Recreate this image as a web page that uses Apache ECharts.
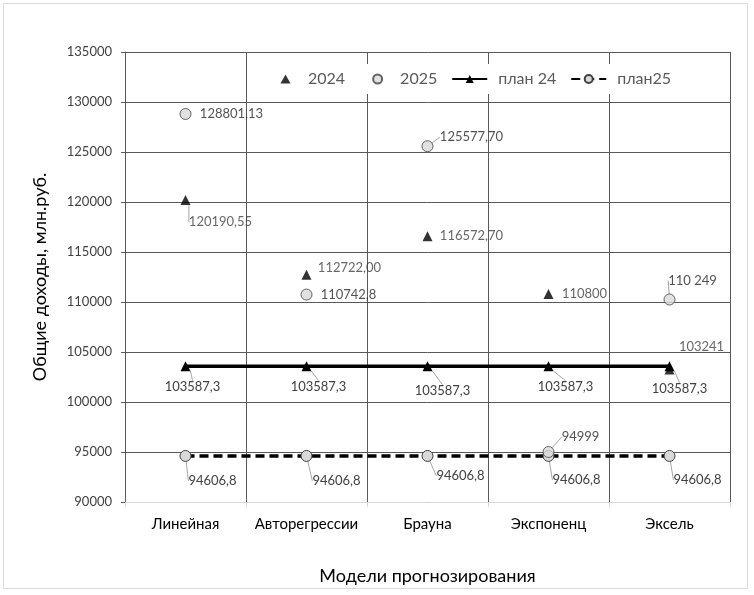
<!DOCTYPE html>
<html><head><meta charset="utf-8">
<script src="https://cdn.jsdelivr.net/npm/echarts@6/dist/echarts.min.js"></script>
<style>html,body{margin:0;padding:0;background:#fff}#c{width:754px;height:595px}</style>
</head><body><div id="c"></div>
<script>
const categories = ['Линейная','Авторегрессии','Брауна','Экспоненц','Эксель'];
const y2024 = [120190.55, 112722.00, 116572.70, 110800, 103241];
const y2025 = [128801.13, 110742.8, 125577.70, 94999, 110249];
const plan24 = [103587.3, 103587.3, 103587.3, 103587.3, 103587.3];
const plan25 = [94606.8, 94606.8, 94606.8, 94606.8, 94606.8];
const labels2024 = ['120190,55','112722,00','116572,70','110800','103241'];
const labels2025 = ['128801,13','110742,8','125577,70','94999','110 249'];
const labelsPlan24 = ['103587,3','103587,3','103587,3','103587,3','103587,3'];
const labelsPlan25 = ['94606,8','94606,8','94606,8','94606,8','94606,8'];
const yTicks = {min: 90000, max: 135000, interval: 5000};

// label placement (offsets from the point, px) and leader-line flags
const off2024 = [[35,22],[43,-7],[44,0],[36,0],[32,-23]];
const lead2024 = [true,false,false,false,false];
const off2025 = [[46,0],[42,0],[44,-9],[32,-15],[23,-19]];
const lead2025 = [false,false,true,true,true];
const offP24 = [[7,21],[12,21],[15,25],[17,21],[10,23]];
const offP25 = [[27,25],[30,25],[33,20],[28,24],[28,24]];

const FONT = 'Lato, "Open Sans", sans-serif';

function mkData(vals, texts, leads){
  return vals.map((v,i)=>({value:v, label:{formatter: texts[i]}, labelLine:{show: leads[i]}}));
}
function layoutFrom(offs){
  return function(p){ const o = offs[p.dataIndex]; return {dx:o[0], dy:o[1]}; };
}
const leaderStyle = {color:'#a6a6a6', width:1};
const dataLabel = {show:true, position:'inside', fontFamily:FONT, fontSize:13, color:'#262626'};

// legend icons padded to the full 35x10 icon box so the mark sits centred
const triIcon = 'path://M0,0 M35,10 M17.5,0.5 L22.5,9.5 L12.5,9.5 Z';
const cirIcon = 'path://M0,0 M35,10 M13,5 A4.5,4.5 0 1 1 22,5 A4.5,4.5 0 1 1 13,5 Z';

const chart = echarts.init(document.getElementById('c'), null, {renderer:'canvas'});
chart.setOption({
  backgroundColor:'#fff',
  animation:false,
  graphic:[{type:'rect', shape:{x:3.5,y:3.5,width:744,height:585}, style:{fill:null, stroke:'#d9d9d9', lineWidth:1}, silent:true, z:-10}],
  grid:{left:125, right:24, top:52, bottom:93},
  legend:{
    data:[
      {name:'2024', icon:triIcon, textStyle:{width:42}},
      {name:'2025', icon:cirIcon, textStyle:{width:36}},
      {name:'план 24', textStyle:{padding:[0,0,0,6]}},
      {name:'план25', textStyle:{padding:[0,0,0,6]}}
    ],
    left:260, top:64, padding:[7,8,7,8],
    itemWidth:35, itemHeight:10, itemGap:14,
    backgroundColor:'#fff',
    textStyle:{fontFamily:FONT, fontSize:16, color:'#595959'},
    z:20
  },
  xAxis:{
    type:'category', data:categories, boundaryGap:true,
    name:'Модели прогнозирования', nameLocation:'middle', nameGap:65,
    nameTextStyle:{fontFamily:FONT, fontSize:18, color:'#000'},
    axisLine:{show:true, lineStyle:{color:'#d9d9d9', width:1}},
    axisTick:{show:true, length:5, interval:0, lineStyle:{color:'#d9d9d9'}},
    splitLine:{show:true, interval:0, lineStyle:{color:'#595959', width:1}},
    axisLabel:{interval:0, fontFamily:FONT, fontSize:15, color:'#000', margin:15}
  },
  yAxis:{
    type:'value', min:yTicks.min, max:yTicks.max, interval:yTicks.interval,
    name:'Общие доходы, млн.руб.', nameLocation:'middle', nameGap:76, nameRotate:90,
    nameTextStyle:{fontFamily:FONT, fontSize:18, color:'#000'},
    axisLine:{show:true, lineStyle:{color:'#595959', width:1}},
    axisTick:{show:true, length:4, lineStyle:{color:'#595959'}},
    splitLine:{show:true, lineStyle:{color:'#595959', width:1}},
    axisLabel:{fontFamily:FONT, fontSize:13, color:'#404040', margin:13, formatter: v => String(v)}
  },
  series:[
    {name:'план 24', type:'line', data:mkData(plan24, labelsPlan24, [true,true,true,true,true]),
     symbol:'triangle', symbolSize:10, itemStyle:{color:'#000'},
     lineStyle:{color:'#000', width:3.5},
     label:Object.assign({}, dataLabel, {color:'#404040'}),
     labelLayout:layoutFrom(offP24), labelLine:{show:true, lineStyle:leaderStyle}, z:3},
    {name:'план25', type:'line', data:mkData(plan25, labelsPlan25, [true,true,true,true,true]),
     symbol:'circle', symbolSize:11, itemStyle:{color:'#d9d9d9', borderColor:'#404040', borderWidth:1},
     lineStyle:{color:'#000', width:3.5, type:[9,5]},
     label:Object.assign({}, dataLabel, {color:'#404040'}),
     labelLayout:layoutFrom(offP25), labelLine:{show:true, lineStyle:leaderStyle}, z:3},
    {name:'2024', type:'scatter', data:mkData(y2024, labels2024, lead2024),
     symbol:'triangle', symbolSize:10, itemStyle:{color:'#000'},
     label:Object.assign({}, dataLabel, {color:'#404040'}),
     labelLayout:layoutFrom(off2024), labelLine:{show:true, lineStyle:leaderStyle}, z:4},
    {name:'2025', type:'scatter', data:mkData(y2025, labels2025, lead2025),
     symbol:'circle', symbolSize:11, itemStyle:{color:'#d9d9d9', borderColor:'#404040', borderWidth:1},
     label:dataLabel,
     labelLayout:layoutFrom(off2025), labelLine:{show:true, lineStyle:leaderStyle}, z:5}
  ]
});
</script></body></html>
